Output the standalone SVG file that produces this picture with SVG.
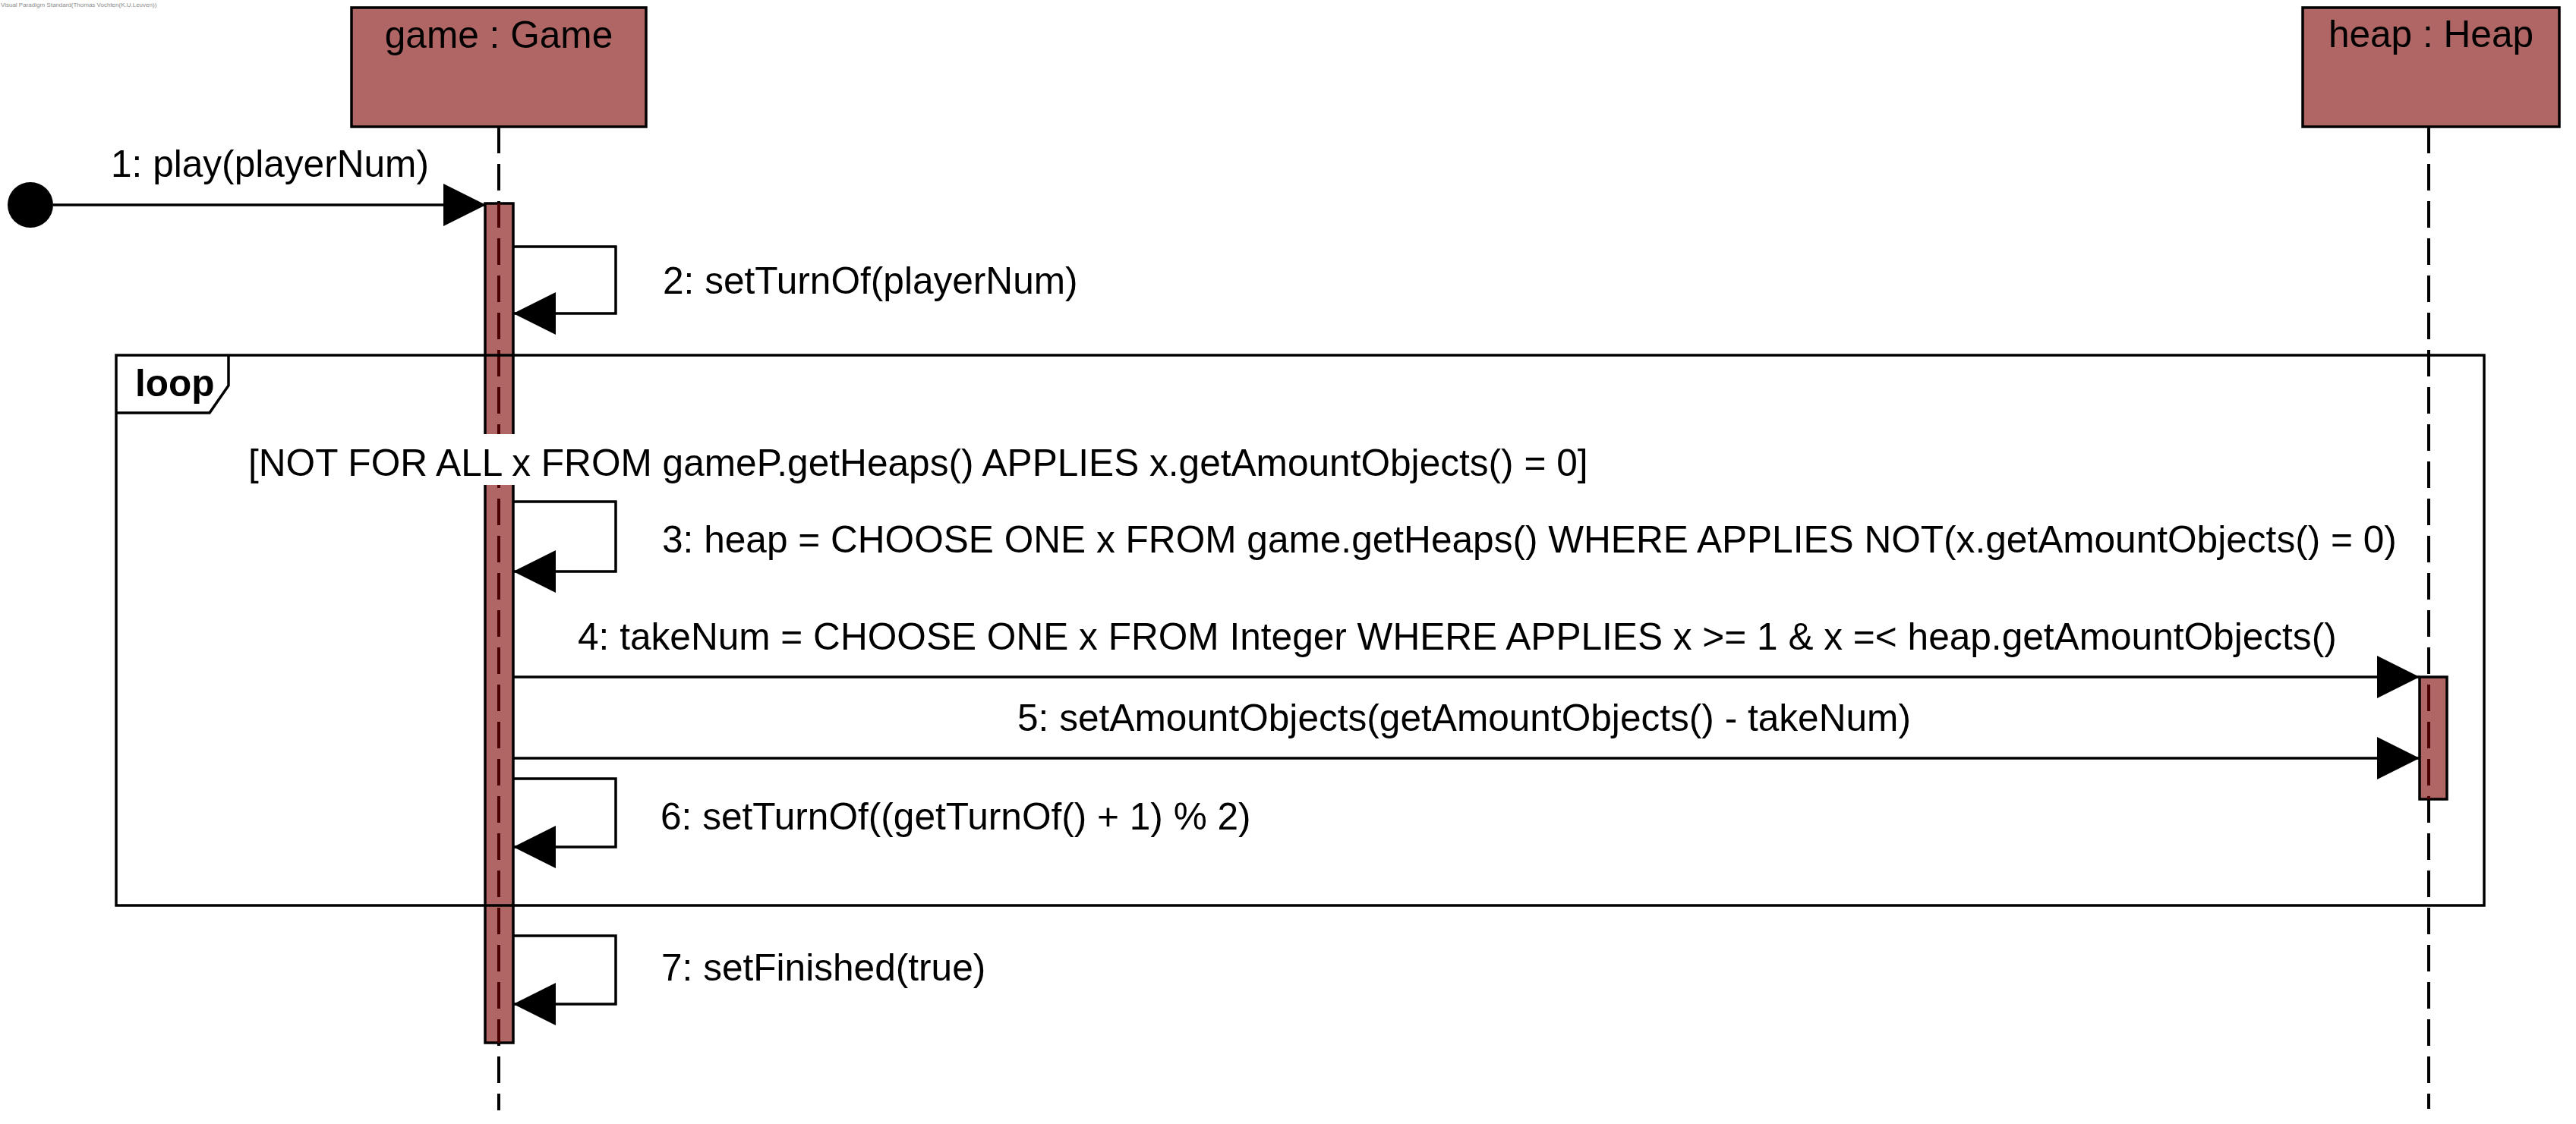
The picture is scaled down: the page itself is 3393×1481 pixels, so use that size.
<svg xmlns="http://www.w3.org/2000/svg" width="3393" height="1481" viewBox="0 0 3393 1481">
<style>
text{font-family:"Liberation Sans",Arial,sans-serif;font-size:49.6px;fill:#000}
.wm{font-size:8px;fill:#8a8a8a}
.box{fill:#B16666;stroke:#000;stroke-width:3.5}
.bar{fill:#B16666;stroke:#000;stroke-width:3.5}
.life{stroke:#000;stroke-width:4;stroke-dasharray:35 14;fill:none}
.lifein{stroke:#4a0000;stroke-width:4;stroke-dasharray:35 14;fill:none}
.msg{stroke:#000;stroke-width:3.5;fill:none;marker-end:url(#arr)}
.frame{stroke:#000;stroke-width:3.5;fill:none}
</style>
<defs>
<marker id="arr" markerUnits="userSpaceOnUse" viewBox="0 0 56 56" refX="56" refY="28" markerWidth="56" markerHeight="56" orient="auto">
<path d="M0,0 L56,28 L0,56 Z" fill="#000"/>
</marker>
</defs>
<rect width="3393" height="1481" fill="#fff"/>
<text class="wm" x="1" y="9">Visual Paradigm Standard(Thomas Vochten(K.U.Leuven))</text>

<g id="game">
<rect class="box" x="463" y="10" width="388" height="157"/>
<text x="657" y="63" text-anchor="middle">game : Game</text>
<line class="life" x1="657" y1="167" x2="657" y2="1463"/>
<rect class="bar" x="639" y="268" width="37" height="1106"/>
<line class="lifein" x1="657" y1="268" x2="657" y2="1374" stroke-dashoffset="3"/>
</g>

<g id="heap">
<rect class="box" x="3033" y="10" width="338" height="157"/>
<text x="3202" y="62" text-anchor="middle">heap : Heap</text>
<line class="life" x1="3199" y1="167" x2="3199" y2="1461"/>
<rect class="bar" x="3187" y="892" width="36" height="161"/>
<line class="lifein" x1="3199" y1="892" x2="3199" y2="1053" stroke-dashoffset="39"/>
</g>

<g id="start">
<circle cx="40" cy="270" r="30" fill="#000"/>
</g>

<g id="loop-frame">
<rect x="322" y="572" width="1790" height="67" fill="#fff"/>
<rect class="frame" x="153" y="468" width="3119" height="725"/>
<path class="frame" d="M153,544 H276 L301,508 V468"/>
<text x="178" y="522" font-weight="bold">loop</text>
<text x="327" y="627">[NOT FOR ALL x FROM gameP.getHeaps() APPLIES x.getAmountObjects() = 0]</text>
</g>

<g id="connectors">
<path class="msg" d="M70,270 H640"/>
<text x="146" y="233">1: play(playerNum)</text>
<path class="msg" d="M676,325 H811 V413 H676"/>
<text x="873" y="387">2: setTurnOf(playerNum)</text>
<path class="msg" d="M676,661 H811 V753 H676"/>
<text x="872" y="728">3: heap = CHOOSE ONE x FROM game.getHeaps() WHERE APPLIES NOT(x.getAmountObjects() = 0)</text>
<path class="msg" d="M676,892 H3187"/>
<text x="761" y="856">4: takeNum = CHOOSE ONE x FROM Integer WHERE APPLIES x &gt;= 1 &amp; x =&lt; heap.getAmountObjects()</text>
<path class="msg" d="M676,999 H3187"/>
<text x="1340" y="963">5: setAmountObjects(getAmountObjects() - takeNum)</text>
<path class="msg" d="M676,1026 H811 V1116 H676"/>
<text x="870" y="1093">6: setTurnOf((getTurnOf() + 1) % 2)</text>
<path class="msg" d="M676,1233 H811 V1323 H676"/>
<text x="871" y="1292">7: setFinished(true)</text>
</g>
</svg>
